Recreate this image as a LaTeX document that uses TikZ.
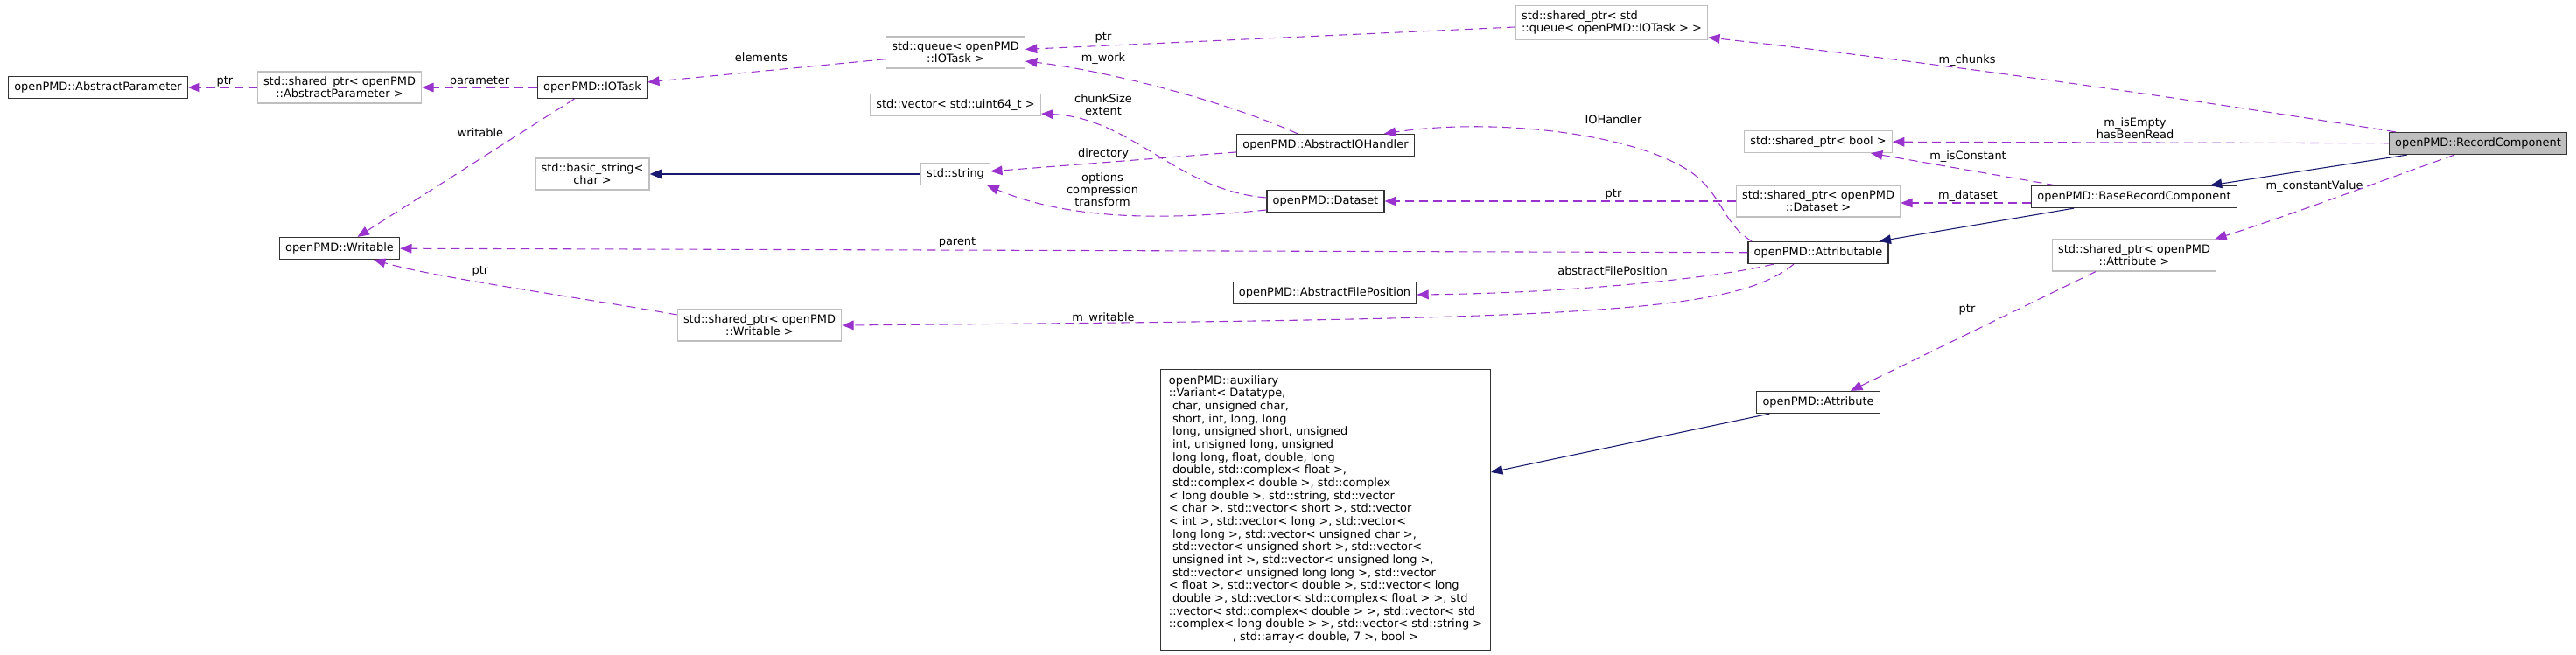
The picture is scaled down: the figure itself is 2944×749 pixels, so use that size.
\documentclass[tikz,border=0pt]{standalone}
\usepackage{fontspec}
\setmainfont{DejaVu Sans}
\usetikzlibrary{arrows.meta}
\definecolor{usecol}{HTML}{9A32CD}
\definecolor{inhcol}{HTML}{191970}
\definecolor{extcol}{HTML}{BFBFBF}
\definecolor{clscol}{HTML}{333333}
\tikzset{
  cls/.style={draw=clscol, line width=0.9pt, fill=white, inner xsep=5pt, inner ysep=4.5pt,
    minimum height=18.75pt, align=center, font=\fontsize{9.7}{10.5}\selectfont},
  ext/.style={cls, draw=extcol},
  cur/.style={cls, fill=extcol},
  usage/.style={usecol, line width=0.8pt, dash pattern=on 7.5pt off 4.5pt,
    -{Triangle[length=10pt,width=8pt]}},
  inherit/.style={inhcol, line width=0.8pt, -{Triangle[length=10pt,width=8pt]}},
  lbl/.style={inner sep=0pt, align=center, font=\fontsize{9.7}{10.5}\selectfont}
}
\begin{document}
\begin{tikzpicture}[x=0.75pt, y=-0.75pt]
  \useasboundingbox (0,0) rectangle (2944,749);
  \node[cls] (absparam) at (112,100) {openPMD::AbstractParameter};
  \node[ext] (spabsparam) at (388,100) {std::shared\_ptr< openPMD\\::AbstractParameter >};
  \node[cls] (iotask) at (677,100) {openPMD::IOTask};
  \node[ext] (basicstr) at (677,199) {std::basic\_string<\\char >};
  \node[cls] (writable) at (388,284) {openPMD::Writable};
  \node[ext] (spwritable) at (868,372) {std::shared\_ptr< openPMD\\::Writable >};
  \node[ext] (queue) at (1092,60) {std::queue< openPMD\\::IOTask >};
  \node[ext] (vecu64) at (1092,120) {std::vector< std::uint64\_t >};
  \node[ext] (stdstr) at (1092,199) {std::string};
  \node[cls] (ioh) at (1515,166) {openPMD::AbstractIOHandler};
  \node[cls] (dataset) at (1515,230) {openPMD::Dataset};
  \node[cls] (afp) at (1514,335) {openPMD::AbstractFilePosition};
  \node[ext, align=left] (spqueue) at (1842,26) {std::shared\_ptr< std\\::queue< openPMD::IOTask > >};
  \node[ext] (spbool) at (2078,162) {std::shared\_ptr< bool >};
  \node[ext] (spdataset) at (2078,230) {std::shared\_ptr< openPMD\\::Dataset >};
  \node[cls] (attributable) at (2078,289) {openPMD::Attributable};
  \node[cls] (attribute) at (2078,460) {openPMD::Attribute};
  \node[cls] (brc) at (2439,225) {openPMD::BaseRecordComponent};
  \node[ext] (spattr) at (2439,292) {std::shared\_ptr< openPMD\\::Attribute >};
  \node[cur] (reccomp) at (2832,164) {openPMD::RecordComponent};
  \node[cls, inner xsep=7pt, inner ysep=5pt] (variant) at (1515,583) {\fontsize{9.7}{11}\selectfont
    \begin{tabular}{@{}l@{}}
    openPMD::auxiliary\\
    ::Variant< Datatype,\\
    \ char, unsigned char,\\
    \ short, int, long, long\\
    \ long, unsigned short, unsigned\\
    \ int, unsigned long, unsigned\\
    \ long long, float, double, long\\
    \ double, std::complex< float >,\\
    \ std::complex< double >, std::complex\\
    < long double >, std::string, std::vector\\
    < char >, std::vector< short >, std::vector\\
    < int >, std::vector< long >, std::vector<\\
    \ long long >, std::vector< unsigned char >,\\
    \ std::vector< unsigned short >, std::vector<\\
    \ unsigned int >, std::vector< unsigned long >,\\
    \ std::vector< unsigned long long >, std::vector\\
    < float >, std::vector< double >, std::vector< long\\
    \ double >, std::vector< std::complex< float > >, std\\
    ::vector< std::complex< double > >, std::vector< std\\
    ::complex< long double > >, std::vector< std::string >\\
    \multicolumn{1}{@{}c@{}}{, std::array< double, 7 >, bool >}
    \end{tabular}};

  \node[lbl] (lptrparam) at (257,93) {ptr};
  \node[lbl] (lparameter) at (548,93) {parameter};
  \node[lbl] (lwritable) at (549,152) {writable};
  \node[lbl] (lptrwritable) at (549,310) {ptr};
  \node[lbl] (lelements) at (870,66) {elements};
  \node[lbl] (lptrqueue) at (1261,43) {ptr};
  \node[lbl] (lmwork) at (1261,67) {m\_work};
  \node[lbl] (lchunk) at (1261,120) {chunkSize\\extent};
  \node[lbl] (ldirectory) at (1261,176) {directory};
  \node[lbl] (loptions) at (1260,217) {options\\compression\\transform};
  \node[lbl] (lparent) at (1094,277) {parent};
  \node[lbl] (lmwritable) at (1261,364) {m\_writable};
  \node[lbl] (liohandler) at (1844,137) {IOHandler};
  \node[lbl] (lptrdataset) at (1844,222) {ptr};
  \node[lbl] (lafp) at (1843,310) {abstractFilePosition};
  \node[lbl] (lmchunks) at (2248,69) {m\_chunks};
  \node[lbl] (lisconst) at (2249,179) {m\_isConstant};
  \node[lbl] (lmdataset) at (2249,224) {m\_dataset};
  \node[lbl] (lptrattr) at (2248,354) {ptr};
  \node[lbl] (lisempty) at (2440,147) {m\_isEmpty\\hasBeenRead};
  \node[lbl] (lconstval) at (2645,213) {m\_constantValue};

  \begin{scope}
    \draw[usage] (spabsparam) to (absparam);
    \draw[usage] (iotask) to (spabsparam);
    \draw[usage] (iotask) to (writable);
    \draw[usage] (queue) to (iotask);
    \draw[inherit] (stdstr) to (basicstr);
    \draw[usage] (spqueue) to (queue);
    \draw[usage] ([xshift=-24pt]ioh.north) .. controls (1400,115) and (1260,80) .. ([yshift=-7.5pt]queue.east);
    \draw[usage] (ioh) to (stdstr);
    \draw[usage] ([yshift=3pt]dataset.west) .. controls (1345,218) and (1295,135) .. ([yshift=-7.5pt]vecu64.east);
    \draw[usage] ([yshift=-7.5pt]dataset.west) .. controls (1350,250) and (1230,255) .. ([xshift=-3pt]stdstr.south east);
    \draw[usage] (attributable) to (writable);
    \draw[usage] ([xshift=-57pt]attributable.north) .. controls (1968,255) and (1968,220) .. (1930,195)
      .. controls (1860,150) and (1700,135) .. ([xshift=-26.25pt]ioh.north east);
    \draw[usage] (spdataset) to (dataset);
    \draw[usage] ([xshift=-38.25pt]attributable.south) .. controls (1960,318) and (1800,335) .. ([yshift=-1.5pt]afp.east);
    \draw[usage] ([xshift=-21pt]attributable.south) .. controls (1980,360) and (1800,365) .. (spwritable.east);
    \draw[usage] ([yshift=9pt]spwritable.west) .. controls (650,338) and (500,318) .. ([xshift=-22.5pt]writable.south east);
    \draw[inherit] ([xshift=36.75pt]brc.south west) to ([xshift=-8.25pt]attributable.north east);
    \draw[usage] ([yshift=-5.25pt]brc.west) to ([yshift=-1.5pt]spdataset.east);
    \draw[usage] ([xshift=21pt]brc.north west) to ([xshift=-18.75pt]spbool.south east);
    \draw[inherit] ([xshift=15.75pt]reccomp.south west) to ([xshift=-23.25pt]brc.north east);
    \draw[usage] (reccomp) to (spbool);
    \draw[usage] ([xshift=6pt]reccomp.north west) .. controls (2480,110) and (2200,70) .. ([yshift=2.25pt]spqueue.south east);
    \draw[usage] ([xshift=-20.25pt]reccomp.south) .. controls (2740,200) and (2620,245) .. ([xshift=-1.5pt]spattr.north east);
    \draw[usage] ([xshift=-33pt]spattr.south) to ([xshift=27.75pt]attribute.north);
    \draw[inherit] ([xshift=11.25pt]attribute.south west) to ([yshift=32.25pt]variant.east);
  \end{scope}
\end{tikzpicture}
\end{document}
